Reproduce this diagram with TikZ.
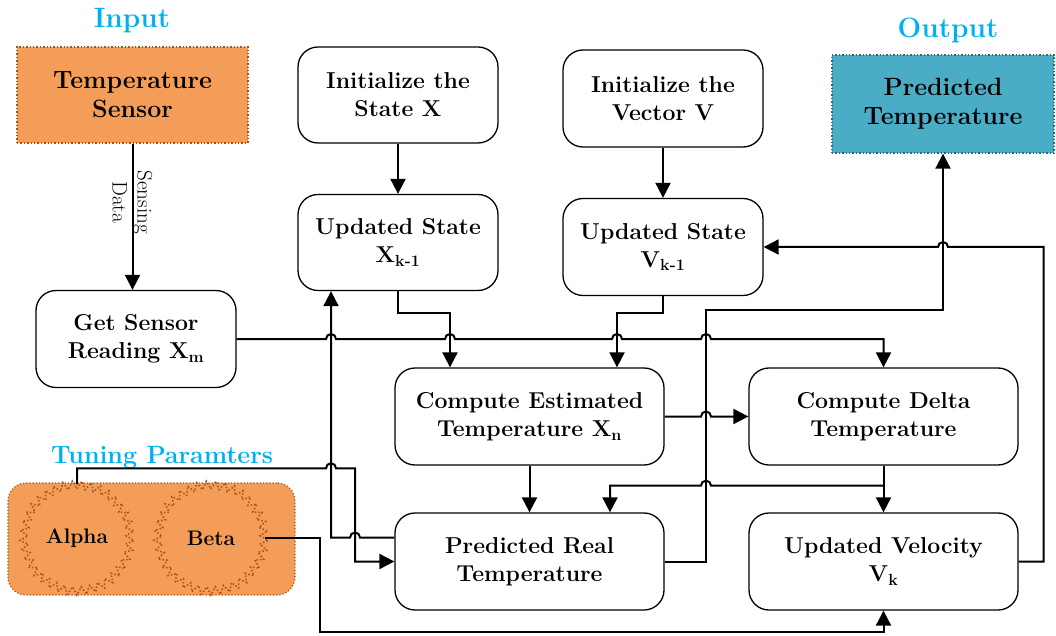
\documentclass[tikz,border=0pt]{standalone}
\usepackage{fontspec}
\setmainfont{Latin Modern Roman}
\usepackage{tikz}
\usepackage{xcolor}
\usetikzlibrary{arrows.meta,calc,decorations.pathmorphing,positioning}
\definecolor{figInk}{RGB}{0,0,0}
\definecolor{figCyan}{RGB}{0,176,240}
\definecolor{figOrange}{RGB}{244,157,89}
\definecolor{figOrangeLine}{RGB}{170,80,18}
\definecolor{figTeal}{RGB}{75,172,198}
\definecolor{figTealLine}{RGB}{38,106,126}

\begin{document}
\begin{tikzpicture}[
  x=1pt,y=1pt,
  font=\fontsize{23}{28}\selectfont\bfseries,
  >={Triangle[length=15pt,width=15pt]},
  title/.style={font=\fontsize{28}{30}\selectfont\bfseries,text=figCyan},
  box/.style={draw=figInk,line width=1.3pt,rounded corners=20pt,fill=white,align=center,inner sep=4pt,text=figInk},
  stage/.style={box,minimum width=200pt,minimum height=96pt},
  wide/.style={box,minimum width=269pt,minimum height=97pt},
  port/.style={dotted,line width=1.4pt,align=center,inner sep=4pt,font=\fontsize{25}{29}\selectfont\bfseries},
  param/.style={circle,minimum size=106pt,draw=figOrangeLine,dotted,line width=1.5pt,
    decorate,decoration={zigzag,segment length=9pt,amplitude=4pt},font=\fontsize{21}{24}\selectfont\bfseries},
  arrow/.style={->,line width=2pt,draw=figInk},
  hop/.style={radius=5pt}
]
\useasboundingbox (0,0) rectangle (1056,635);

% titles
\node[title] (intitle) at (132,614) {Input};
\node[title] (outtitle) at (948,605) {Output};
\node[title,font=\fontsize{25}{28}\selectfont\bfseries] (tunetitle) at (162,178) {Tuning Paramters};

% input and output
\node[port,fill=figOrange,draw=figOrangeLine,minimum width=231pt,minimum height=96pt] (sensor) at (132.5,540) {Temperature\\Sensor};
\node[port,fill=figTeal,draw=figTealLine,minimum width=222pt,minimum height=98pt] (predTemp) at (943,531) {Predicted\\Temperature};

% state boxes
\node[stage] (initX) at (398,540) {Initialize the\\State X};
\node[stage] (updX) at (398,392.5) {Updated State\\X\textsubscript{k-1}};
\node[stage,minimum height=97pt] (initV) at (663,536.5) {Initialize the\\Vector V};
\node[stage,minimum height=97pt] (updV) at (663,388) {Updated State\\V\textsubscript{k-1}};
\node[stage,minimum height=97pt] (getread) at (136,296) {Get Sensor\\Reading X\textsubscript{m}};

% computation boxes
\node[wide] (compEst) at (529.5,218.5) {Compute Estimated\\Temperature X\textsubscript{n}};
\node[wide] (compDelta) at (883.5,218.5) {Compute Delta\\Temperature};
\node[wide] (predReal) at (529.5,73.5) {Predicted Real\\Temperature};
\node[wide] (updVel) at (883.5,73.5) {Updated Velocity\\V\textsubscript{k}};

% tuning parameters
\node[dotted,line width=1.2pt,draw=figOrangeLine,fill=figOrange,rounded corners=18pt,
  minimum width=287pt,minimum height=112pt] (tune) at (151.5,96) {};
\node[param] (alpha) at (77,97) {Alpha};
\node[param] (beta) at (211,97) {Beta};

% columns used by the crossing wires
\coordinate (fbcol) at (331,0);
\coordinate (alcol) at (355,0);
\coordinate (outcol) at (706,0);
\coordinate (estA) at ([xshift=-79.5pt]compEst.north);
\coordinate (estB) at ([xshift=87.5pt]compEst.north);
\coordinate (predB) at ([xshift=80.5pt]predReal.north);
\coordinate (split) at ([yshift=-20pt]compDelta.south);
\coordinate (fbin) at ([yshift=24pt]predReal.west);
\coordinate (outturn) at (706,325);

\draw[arrow] (sensor.south) -- (sensor.south |- getread.north)
  node[pos=0.4,rotate=-90,align=center,font=\fontsize{21}{25}\selectfont\mdseries] (sensing) {Sensing\\Data};
\draw[arrow] (initX.south) -- (updX.north);
\draw[arrow] (initV.south) -- (updV.north);
\draw[arrow] (updX.south) -- ++(0,-22) -| (estA);
\draw[arrow] (updV.south) -- ++(0,-17) -| (estB);

\draw[arrow] (getread.east)
  -- ([xshift=-5pt]getread.east -| fbcol) arc[hop,start angle=180,end angle=0]
  -- ([xshift=-5pt]getread.east -| estA) arc[hop,start angle=180,end angle=0]
  -- ([xshift=-5pt]getread.east -| estB) arc[hop,start angle=180,end angle=0]
  -- ([xshift=-5pt]getread.east -| outcol) arc[hop,start angle=180,end angle=0]
  -| (compDelta.north);

\draw[arrow] (compEst.east) -- ([xshift=-5pt]compEst.east -| outcol) arc[hop,start angle=180,end angle=0] -- (compDelta.west);
\draw[arrow] (compEst.south) -- (predReal.north);
\draw[arrow] (compDelta.south) -- (updVel.north);
\draw[arrow] (split) -- ([xshift=5pt]split -| outcol) arc[hop,start angle=0,end angle=180] -| (predB);

\draw[arrow] (predReal.east) -| (outturn) -| (predTemp.south);
\draw[arrow] (updVel.east) -- ++(25,0) |- ([xshift=5pt]updV.east -| predTemp.south)
  arc[hop,start angle=0,end angle=180] -- (updV.east);

\draw[arrow] (fbin) -- ([xshift=5pt]fbin -| alcol) arc[hop,start angle=0,end angle=180] -| (updX.south -| fbcol);
\draw[arrow] (alpha.north) -- ++(0,16) coordinate (alturn)
  -- ([xshift=-5pt]alturn -| fbcol) arc[hop,start angle=180,end angle=0]
  -| (predReal.west -| alcol) -- (predReal.west);
\draw[arrow] (beta.east) -- ++(55,0) -- ++(0,-94) -| (updVel.south);

\end{tikzpicture}
\end{document}
